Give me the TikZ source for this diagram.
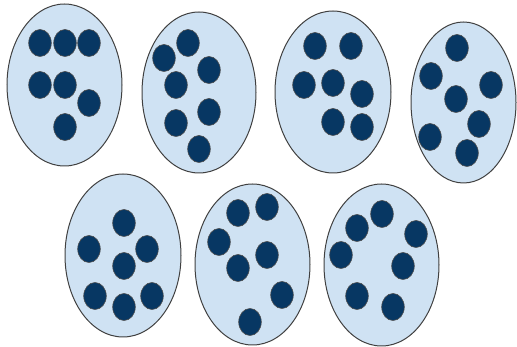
\documentclass[tikz,border=0pt]{standalone}
\definecolor{setfill}{HTML}{CFE2F3}
\definecolor{dotfill}{HTML}{073763}
\definecolor{setline}{HTML}{404040}
\begin{document}
\begin{tikzpicture}[x=1pt,y=-1pt,
  setbox/.style={ellipse-ish},
  dot/.style={fill=dotfill,draw=black!70,line width=0.6pt}]
\useasboundingbox (0,0) rectangle (517,347);
\tikzset{setshape/.style={fill=setfill,draw=setline,line width=1pt}}
% sets
\draw[setshape] (64.5,85) ellipse [x radius=57.5,y radius=81];
\draw[setshape] (199,92.5) ellipse [x radius=57,y radius=80.5];
\draw[setshape] (333,92) ellipse [x radius=58,y radius=81];
\draw[setshape] (463.5,102.5) ellipse [x radius=52.5,y radius=80.5];
\draw[setshape] (123,255.5) ellipse [x radius=58,y radius=81.5];
\draw[setshape] (252.5,264.5) ellipse [x radius=57.5,y radius=80.5];
\draw[setshape] (381.5,265) ellipse [x radius=57.5,y radius=81];
% dots
\foreach \p in {(40,43),(65,43),(89,43),(40,85),(65,85),(89,103),(65,127),
  (188,43),(164,58),(209,70),(176,85),(209,112),(176,123),(199,149),
  (315,46),(351,46),(304,85),(333,83),(362,94),(333,122),(362,127),
  (457,48),(431,76),(491,85),(456,99),(479,124),(430,137),(467,153),
  (124,223),(89,249),(147,249),(124,266),(95,296),(124,307),(152,296),
  (238,213),(267,207),(219,242),(267,255),(238,268),(282,295),(250,322),
  (382,214),(357,228),(416,234),(341,255),(403,266),(357,296),(393,307)}
  \draw[dot] \p ellipse [x radius=11.3,y radius=13.5];
\end{tikzpicture}
\end{document}
